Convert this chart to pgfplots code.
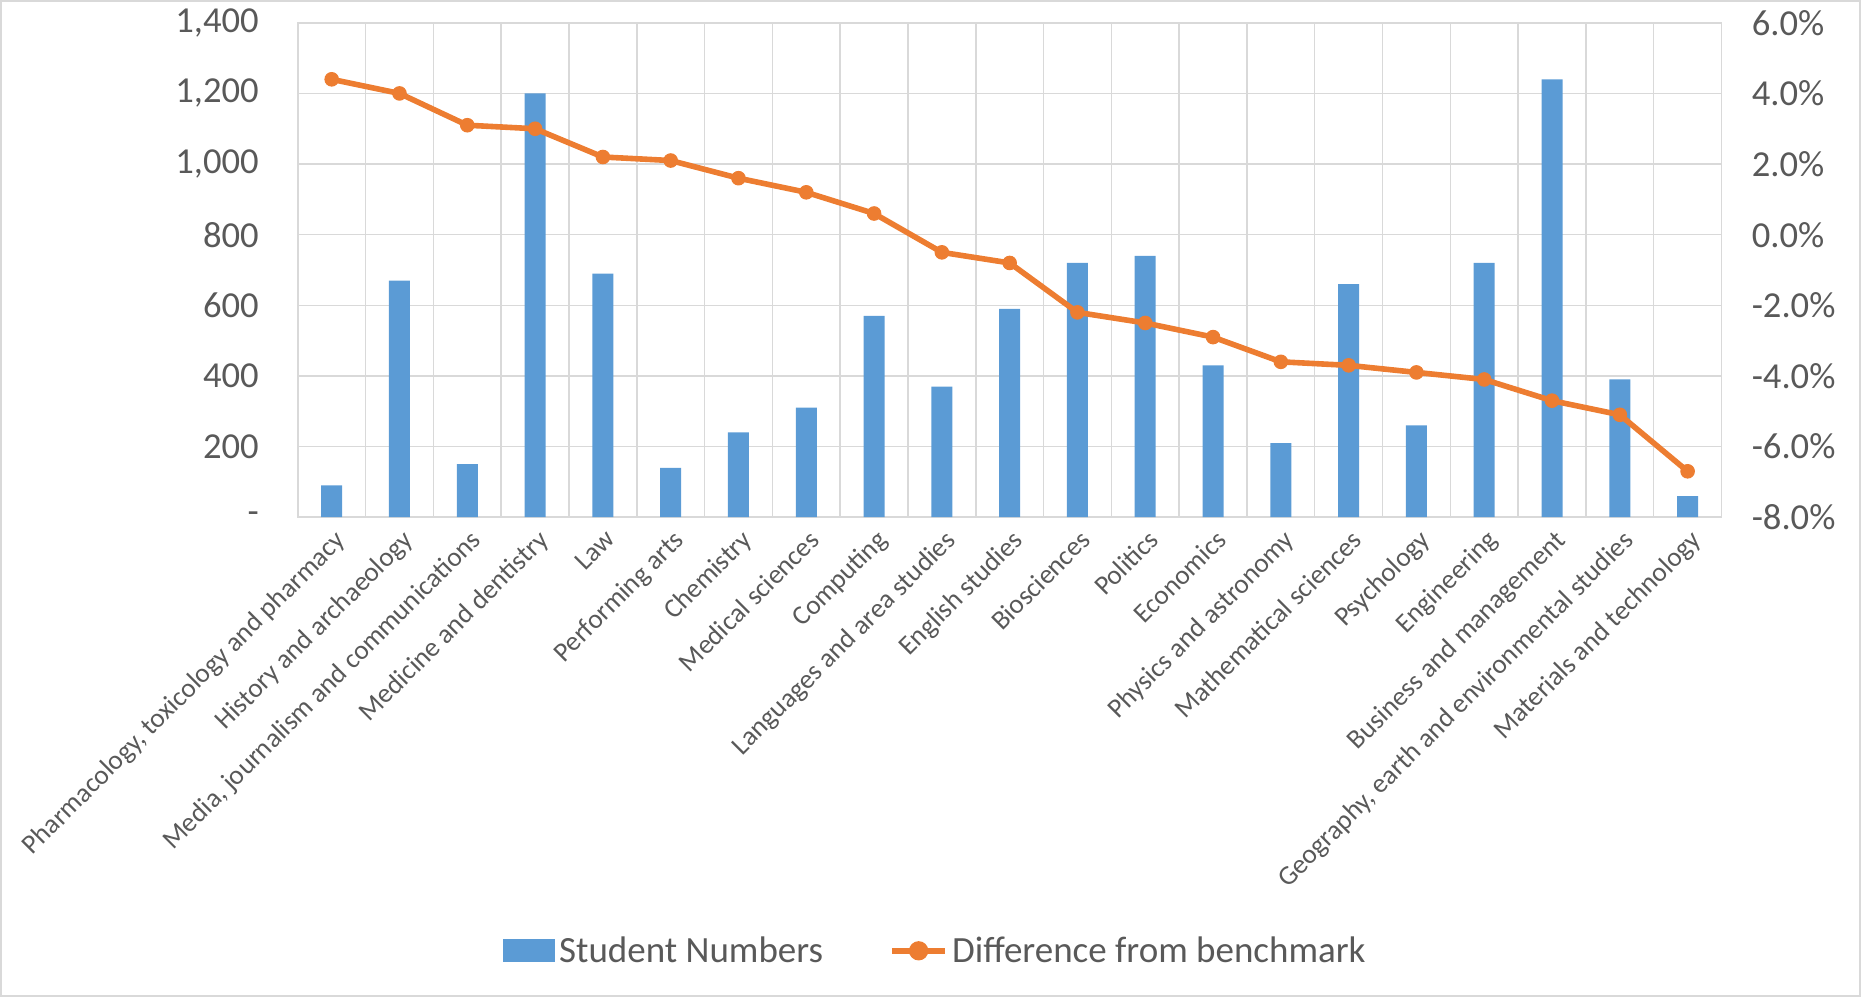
\documentclass[border=0pt]{standalone}
\usepackage{fontspec}
\setmainfont{Carlito}
\usepackage{pgfplots}
\usepackage{pgfplotstable}
\pgfplotsset{compat=1.18}
\definecolor{barblue}{HTML}{5B9BD5}
\definecolor{lineor}{HTML}{ED7D31}
\definecolor{txt}{HTML}{595959}
\definecolor{grd}{HTML}{D9D9D9}

\pgfplotstableread{
x n d
0 90 4.4
1 670 4.0
2 150 3.1
3 1200 3.0
4 690 2.2
5 140 2.1
6 240 1.6
7 310 1.2
8 570 0.6
9 370 -0.5
10 590 -0.8
11 720 -2.2
12 740 -2.5
13 430 -2.9
14 210 -3.6
15 660 -3.7
16 260 -3.9
17 720 -4.1
18 1240 -4.7
19 390 -5.1
20 60 -6.7
}\data

\begin{document}
\begin{tikzpicture}[font=\fontsize{18.3bp}{22bp}\selectfont]
\useasboundingbox (-148.9bp,-239.9bp) rectangle (781.6bp,258.6bp);
\draw[grd, line width=1bp] (-148.4bp,-239.4bp) rectangle (781.1bp,258.1bp);
\begin{axis}[
  at={(0,0)}, anchor=south west,
  scale only axis, width=711.85bp, height=247.2bp,
  xmin=-0.5, xmax=20.5, ymin=0, ymax=1400,
  axis line style={grd, line width=0.75bp},
  ytick={0,200,...,1400},
  yticklabels={-\hspace{0.55em},200,400,600,800,{1,000},{1,200},{1,400}},
  ytick pos=left, xtick pos=bottom,
  xtick={0,...,20},
  xticklabels={{Pharmacology, toxicology and pharmacy},History and archaeology,{Media, journalism and communications},Medicine and dentistry,Law,Performing arts,Chemistry,Medical sciences,Computing,Languages and area studies,English studies,Biosciences,Politics,Economics,Physics and astronomy,Mathematical sciences,Psychology,Engineering,Business and management,{Geography, earth and environmental studies},Materials and technology},
  minor xtick={-0.5,0.5,...,20.5},
  xminorgrids, ymajorgrids,
  major grid style={grd, line width=0.75bp},
  minor grid style={grd, line width=0.75bp},
  major tick length=0, minor tick length=0,
  tick label style={text=txt},
  yticklabel style={xshift=-16bp, font=\fontsize{18.3bp}{22bp}\selectfont},
  xticklabel style={rotate=45, anchor=north east, yshift=-1bp, font=\fontsize{13.6bp}{16bp}\selectfont},
  ybar, bar width=10.5bp,
]
\addplot[fill=barblue, draw=none] table[x=x,y=n]{\data};
\end{axis}
\begin{axis}[
  at={(0,0)}, anchor=south west,
  scale only axis, width=711.85bp, height=247.2bp,
  xmin=-0.5, xmax=20.5, ymin=-8, ymax=6,
  hide x axis,
  axis y line*=right,
  y axis line style={grd, line width=0.75bp},
  ytick={-8,-6,...,6},
  yticklabels={-8.0\%,-6.0\%,-4.0\%,-2.0\%,0.0\%,2.0\%,4.0\%,6.0\%},
  major tick length=0,
  yticklabel style={text=txt, xshift=11.6bp, font=\fontsize{18.3bp}{22bp}\selectfont},
  legend columns=2,
  legend style={at={(0.4486,-0.877)}, anchor=center, draw=none, fill=none,
    font=\fontsize{18.5bp}{22bp}\selectfont, text=txt,
    /tikz/every even column/.append style={column sep=31bp}},
  legend cell align=left,
]
\addlegendimage{legend image code/.code={\fill[barblue] (0bp,-5.5bp) rectangle (25.5bp,5.5bp);}}
\addlegendentry{Student Numbers}
\addplot[lineor, line width=2.8bp, mark=*, mark size=3.4bp, mark options={fill=lineor, draw=lineor, line width=0.5bp},
  legend image code/.code={\draw[lineor, line width=2.8bp] (0bp,0bp) -- (26.7bp,0bp); \fill[lineor] (13.35bp,0bp) circle (3.4bp);}]
  table[x=x,y=d]{\data};
\addlegendentry{Difference from benchmark}
\end{axis}
\end{tikzpicture}
\end{document}
